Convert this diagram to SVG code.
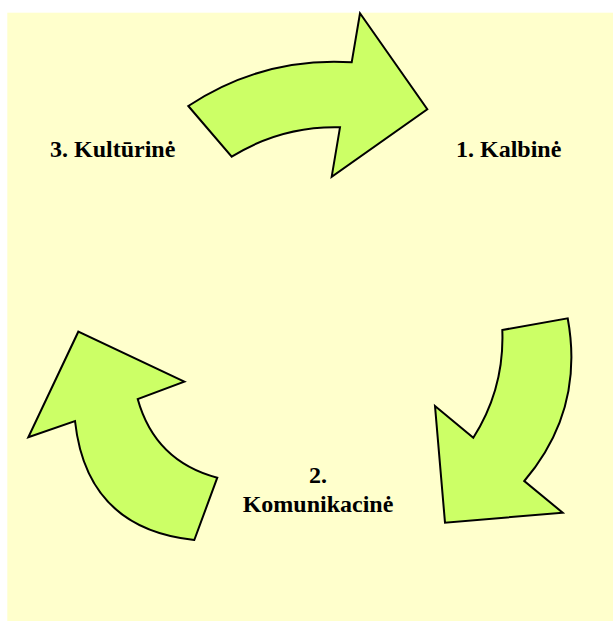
<svg xmlns="http://www.w3.org/2000/svg" width="613" height="621" viewBox="0 0 613 621">
<style>
.arrow{fill:#CCFF66;stroke:#000;stroke-width:2;stroke-linejoin:miter}
.lbl{font-family:"Liberation Serif","Times New Roman",serif;font-weight:bold;font-size:24px;fill:#000}
</style>
<rect x="7.3" y="12.7" width="606" height="609" fill="#FFFFCC"/>
<g id="connectors">
<path id="arrow-top" class="arrow" d="M188.3,106 L231.7,156.7 Q281.5,125.8 340,127.3 L331.7,176.7 L427.3,109.3 L360,13.3 L351.7,62.3 Q262.7,56.8 188.3,106 Z"/>
<path id="arrow-right" class="arrow" d="M502.3,330 L567.7,318.3 Q584.6,410 524.3,481 L562.7,512.7 L445,522.7 L435,406 L473.3,437.7 Q504.6,388.4 502.3,330 Z"/>
<path id="arrow-left" class="arrow" d="M217.3,477.7 L194.3,540 Q86.7,528.6 75,421 L28.3,437.3 L78.3,331.7 L184.3,381.7 L137.7,399 Q155,461.2 217.3,477.7 Z"/>
</g>
<g id="node-kalbine"><text class="lbl" x="456" y="156.7">1. Kalbinė</text></g>
<g id="node-komunikacine"><text class="lbl" x="318" y="483.3" text-anchor="middle">2.</text><text class="lbl" x="318" y="511.7" text-anchor="middle">Komunikacinė</text></g>
<g id="node-kulturine"><text class="lbl" x="50" y="156.7">3. Kultūrinė</text></g>
</svg>
